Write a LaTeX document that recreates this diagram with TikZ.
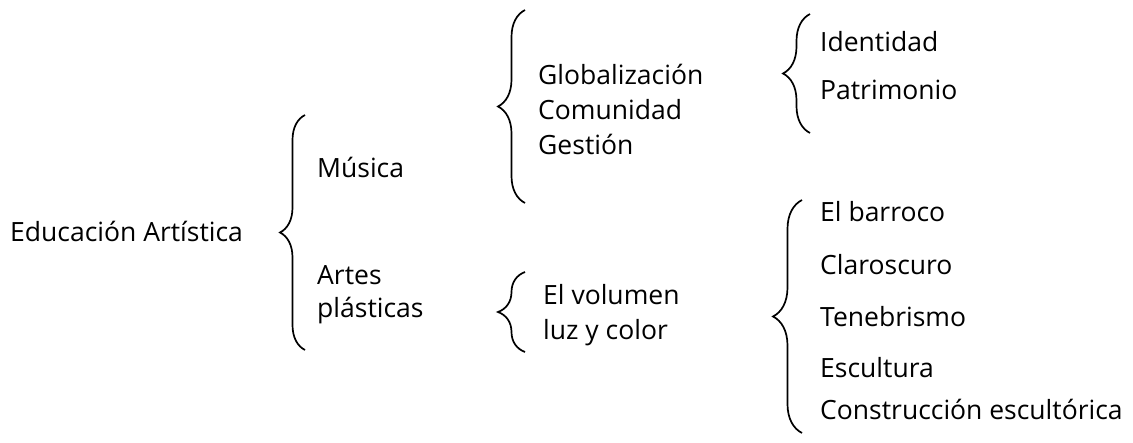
\documentclass[tikz,border=0pt]{standalone}
\usepackage{fontspec}
\setmainfont{Open Sans}
\usetikzlibrary{positioning}
\usetikzlibrary{decorations.pathreplacing}

\tikzset{
  item/.style={anchor=base west,inner sep=0pt,font=\fontsize{26.5}{31}\selectfont},
  curly/.style={decorate,decoration={brace,amplitude=#1},line width=1.7pt},
  curly/.default=26pt
}

\begin{document}
\begin{tikzpicture}[x=1pt,y=-1pt]
 \useasboundingbox (0,0) rectangle (1133,443);
 \node[item] (edu) at (10,242) {Educación Artística};
 \node[item] (mus) at (317,178) {Música};
 \node[item] (artes) at (317,285) {Artes};
 \node[item] (plast) at (317,318) {plásticas};
 \node[item] (glob) at (538,85) {Globalización};
 \node[item] (comu) at (538,120) {Comunidad};
 \node[item] (gest) at (538,155) {Gestión};
 \node[item] (vol) at (543,305) {El volumen};
 \node[item] (luz) at (543,340) {luz y color};
 \node[item] (iden) at (820,52) {Identidad};
 \node[item] (patr) at (820,100) {Patrimonio};
 \node[item] (barr) at (820,222) {El barroco};
 \node[item] (claro) at (820,275) {Claroscuro};
 \node[item] (tene) at (820,327) {Tenebrismo};
 \node[item] (escu) at (820,378) {Escultura};
 \node[item] (cons) at (820,420) {Construcción escultórica};
 \coordinate (b1t) at (305,115); \coordinate (b1b) at (305,350);
 \coordinate (b2t) at (525,10);  \coordinate (b2b) at (525,203);
 \coordinate (b3t) at (525,272); \coordinate (b3b) at (525,352);
 \coordinate (b4t) at (810,14);  \coordinate (b4b) at (810,133);
 \coordinate (b5t) at (802,200); \coordinate (b5b) at (802,433);
 \draw[curly=25pt] (b1b) -- (b1t);
 \draw[curly=27pt] (b2b) -- (b2t);
 \draw[curly=27pt] (b3b) -- (b3t);
 \draw[curly=27pt] (b4b) -- (b4t);
 \draw[curly=29pt] (b5b) -- (b5t);
\end{tikzpicture}
\end{document}
